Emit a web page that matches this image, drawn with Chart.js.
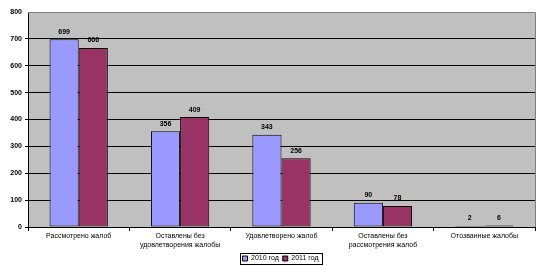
<!DOCTYPE html>
<html>
<head>
<meta charset="utf-8">
<script src="https://cdn.jsdelivr.net/npm/chart.js@4/dist/chart.umd.min.js"></script>
<style>
  html, body { margin: 0; padding: 0; background: #fff; }
  #wrap { width: 543px; height: 266px; position: relative; }
</style>
</head>
<body>
<div id="wrap"><canvas id="grafic"></canvas></div>
<script>
const categories = [
  ['Рассмотрено жалоб'],
  ['Оставлены без', 'удовлетворения жалобы'],
  ['Удовлетворено жалоб'],
  ['Оставлены без', 'рассмотрения жалоб'],
  ['Отозванные жалобы']
];
const anys = ['2010 год', '2011 год'];
const valors2010 = [699, 356, 343, 90, 2];
const valors2011 = [666, 409, 256, 78, 6];
const ticksY = [0, 100, 200, 300, 400, 500, 600, 700, 800];

const fontPetit = { family: 'Liberation Sans', size: 7 };

// fons gris de l'area i vora grisa dalt/dreta
const fonsArea = {
  id: 'fonsArea',
  afterLayout(chart) {
    // la llegenda de l'original queda una mica a la dreta del centre
    chart.legend.left += 13;
    chart.legend.right += 13;
  },
  beforeDraw(chart) {
    const a = chart.chartArea, ctx = chart.ctx;
    ctx.save();
    ctx.fillStyle = '#C0C0C0';
    ctx.fillRect(a.left, a.top, a.right - a.left, a.bottom - a.top);
    ctx.restore();
  },
  afterDraw(chart) {
    const a = chart.chartArea, ctx = chart.ctx;
    ctx.save();
    ctx.strokeStyle = '#808080';
    ctx.lineWidth = 1;
    ctx.beginPath();
    ctx.moveTo(a.left, a.top + 0.5);
    ctx.lineTo(a.right + 0.5, a.top + 0.5);
    ctx.lineTo(a.right + 0.5, a.bottom);
    ctx.stroke();
    // marc de la llegenda, al voltant dels items
    const hb = chart.legend.legendHitBoxes;
    if (hb && hb.length) {
      const x0 = Math.min(...hb.map(h => h.left)) - 3;
      const x1 = Math.max(...hb.map(h => h.left + h.width)) + 3;
      const y0 = Math.min(...hb.map(h => h.top)) - 2;
      const y1 = Math.max(...hb.map(h => h.top + h.height)) + 2;
      ctx.strokeStyle = '#000';
      ctx.strokeRect(Math.round(x0) + 0.5, Math.round(y0) + 0.5, Math.round(x1 - x0), Math.round(y1 - y0));
    }
    ctx.restore();
  }
};

const etiquetes = {
  id: 'etiquetes',
  afterDatasetsDraw(chart) {
    const ctx = chart.ctx;
    ctx.save();
    ctx.fillStyle = '#000';
    ctx.font = 'bold 7px "Liberation Sans"';
    ctx.textAlign = 'center';
    ctx.textBaseline = 'bottom';
    chart.data.datasets.forEach((ds, i) => {
      chart.getDatasetMeta(i).data.forEach((bar, j) => {
        ctx.fillText(ds.data[j], bar.x, bar.y - 4);
      });
    });
    ctx.restore();
  }
};

new Chart(document.getElementById('grafic'), {
  type: 'bar',
  data: {
    labels: categories,
    datasets: [
      { label: anys[0], data: valors2010, backgroundColor: '#9999FF', borderColor: '#000', borderWidth: 1, borderSkipped: false, minBarLength: 1 },
      { label: anys[1], data: valors2011, backgroundColor: '#993366', borderColor: '#000', borderWidth: 1, borderSkipped: false, minBarLength: 1 }
    ]
  },
  options: {
    responsive: true, maintainAspectRatio: false, animation: false,
    devicePixelRatio: 1,
    layout: { padding: { left: 0, right: 8, top: 12, bottom: 0 } },
    datasets: { bar: { categoryPercentage: 0.575, barPercentage: 1 } },
    scales: {
      x: {
        afterFit: s => { s.height = 24; },
        grid: { drawOnChartArea: false, drawTicks: true, tickLength: 4, color: '#000' },
        border: { color: '#000', width: 1 },
        ticks: { font: fontPetit, color: '#000', maxRotation: 0, autoSkip: false, padding: 1 }
      },
      y: {
        min: 0, max: 800,
        afterBuildTicks: s => { s.ticks = ticksY.map(v => ({ value: v })); },
        afterFit: s => { s.width = 28; },
        grid: { color: c => c.tick.value === 800 ? 'rgba(0,0,0,0)' : '#000', lineWidth: 1, tickLength: 3, drawTicks: true },
        border: { color: '#000', width: 1 },
        ticks: { font: { family: 'Liberation Sans', size: 7, weight: 'bold' }, color: '#000', padding: 3 }
      }
    },
    plugins: {
      legend: {
        position: 'bottom',
        maxHeight: 15,
        labels: { font: fontPetit, color: '#000', boxWidth: 5, boxHeight: 5, padding: 4 }
      },
      tooltip: { enabled: false }
    }
  },
  plugins: [fonsArea, etiquetes]
});
</script>
</body>
</html>
